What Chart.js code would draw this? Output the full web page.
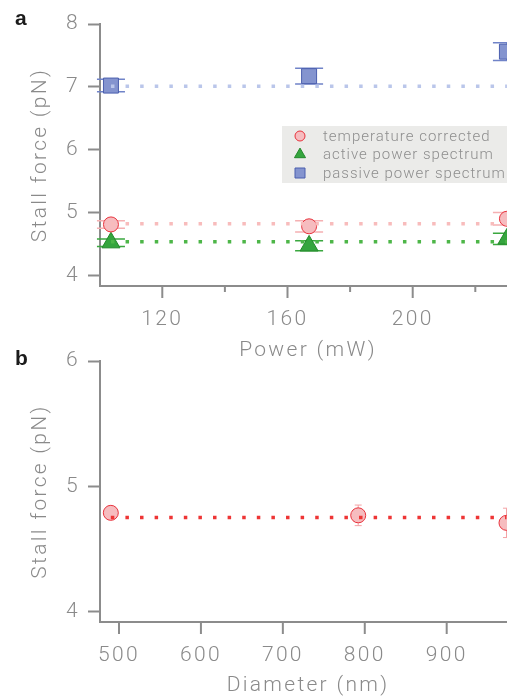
<!DOCTYPE html>
<html>
<head>
<meta charset="utf-8">
<script src="https://cdn.jsdelivr.net/npm/chart.js@4.4.1/dist/chart.umd.min.js"></script>
<style>
  html, body { margin: 0; padding: 0; overflow: hidden; background: #fff; }
  #fig { position: relative; width: 507px; height: 700px; overflow: hidden; }
  .panel { position: absolute; left: 0; width: 516px; }
  .tag { position: absolute; left: 15px; font: bold 21px "Liberation Sans", Arial, sans-serif; color: #1b1b1b; line-height: 21px; }
</style>
</head>
<body>
<div id="fig">
  <div class="panel" style="top:0;height:370px"><canvas id="chartA"></canvas></div>
  <div class="panel" style="top:340px;height:360px"><canvas id="chartB"></canvas></div>
  <div class="tag" style="top:7px">a</div>
  <div class="tag" style="top:347px">b</div>
</div>
<script>
// ---- Panel a: stall force against trap power ----
const powerMW = [103.6, 166.9, 230.1];
const tempCorrected = [4.81, 4.78, 4.90];
const tempCorrectedErr = [0.06, 0.09, 0.10];
const activeSpectrum = [4.52, 4.47, 4.58];
const activeSpectrumErr = [0.06, 0.08, 0.09];
const passiveSpectrum = [7.02, 7.17, 7.56];
const passiveSpectrumErr = [0.10, 0.125, 0.14];
const tempCorrectedLevel = 4.82;
const activeSpectrumLevel = 4.535;
const passiveSpectrumLevel = 7.01;
const powerTicks = [120, 140, 160, 180, 200, 220];
const powerTickLabels = [120, 160, 200];
const forceTicksA = [4, 5, 6, 7, 8];
const seriesNamesA = ['temperature corrected', 'active power spectrum', 'passive power spectrum'];

// ---- Panel b: stall force against bead diameter ----
const diameterNm = [490, 792, 973];
const stallForceB = [4.79, 4.77, 4.71];
const stallForceBErr = [0.05, 0.082, 0.117];
const stallForceBLevel = 4.753;
const diameterTicks = [500, 600, 700, 800, 900];
const forceTicksB = [4, 5, 6];

const GRAY = '#8c8c8c';
const TXT = '#8a8a8a';
const FAMILY = 'Roboto, "Liberation Sans", Arial, sans-serif';
const axisFont = { family: FAMILY, size: 21, weight: 300 };

const PINK_FILL = '#f6bcbf', RED = '#e8323c';
const GREEN_FILL = '#35a53e', GREEN_EDGE = '#23882b';
const BLUE_FILL = '#8494cf', BLUE_EDGE = '#4b5fae';

const pts = (xs, ys) => xs.map((x, i) => ({ x, y: ys[i] }));
const level = (xs, v) => [{ x: xs[0], y: v }, { x: xs[xs.length - 1], y: v }];

// spaced-out lettering used throughout the figure
const spacing = {
  id: 'spacing',
  beforeLayout(chart) { chart.ctx.letterSpacing = '2.3px'; },
  beforeDraw(chart) { chart.ctx.letterSpacing = '2.3px'; }
};

// vertical error bars with flat caps, drawn beneath the markers
const errorBars = {
  id: 'errorBars',
  beforeDatasetsDraw(chart) {
    const { ctx } = chart;
    chart.data.datasets.forEach((ds, i) => {
      if (!ds.errors) return;
      const meta = chart.getDatasetMeta(i);
      const ys = chart.scales[meta.yAxisID];
      ctx.save();
      ctx.strokeStyle = ds.errorColor;
      ctx.lineWidth = ds.errorWidth;
      meta.data.forEach((pt, j) => {
        const v = ds.data[j].y, e = ds.errors[j];
        const top = ys.getPixelForValue(v + e), bot = ys.getPixelForValue(v - e);
        const hw = ds.capHalfWidth;
        ctx.beginPath();
        ctx.moveTo(pt.x, top); ctx.lineTo(pt.x, bot);
        ctx.moveTo(pt.x - hw, top); ctx.lineTo(pt.x + hw, top);
        ctx.moveTo(pt.x - hw, bot); ctx.lineTo(pt.x + hw, bot);
        ctx.stroke();
      });
      ctx.restore();
    });
  }
};

// x tick marks: long under labelled values, short elsewhere
function tickMarks(labelled) {
  return {
    id: 'tickMarks',
    afterDraw(chart) {
      const s = chart.scales.x, ctx = chart.ctx;
      ctx.save();
      ctx.strokeStyle = GRAY;
      ctx.lineWidth = 2;
      s.ticks.forEach(t => {
        const px = s.getPixelForValue(t.value);
        const len = labelled.includes(t.value) ? 12 : 6;
        ctx.beginPath();
        ctx.moveTo(px, s.top);
        ctx.lineTo(px, s.top + len);
        ctx.stroke();
      });
      ctx.restore();
    }
  };
}

// boxed key in the upper right of panel a
const keyBox = {
  id: 'keyBox',
  afterDraw(chart) {
    const ctx = chart.ctx;
    const x0 = 282, y0 = 126, rowH = 18.5;
    ctx.save();
    ctx.fillStyle = '#ebebe9';
    ctx.fillRect(x0, y0, chart.width - x0, 57);
    ctx.letterSpacing = '1px';
    ctx.font = '300 15px ' + FAMILY;
    ctx.textBaseline = 'alphabetic';
    ctx.textAlign = 'left';
    const markers = chart.data.datasets.filter(d => d.keyed);
    markers.forEach((ds, k) => {
      const cx = 300, cy = 136 + k * rowH;
      ctx.fillStyle = ds.backgroundColor;
      ctx.strokeStyle = ds.borderColor;
      ctx.lineWidth = 1;
      ctx.beginPath();
      if (ds.pointStyle === 'circle') {
        ctx.arc(cx, cy, 5, 0, Math.PI * 2);
      } else if (ds.pointStyle === 'triangle') {
        const r = 6.4;
        ctx.moveTo(cx, cy - r);
        ctx.lineTo(cx + r * 0.866, cy + r / 2);
        ctx.lineTo(cx - r * 0.866, cy + r / 2);
        ctx.closePath();
      } else {
        ctx.rect(cx - 5, cy - 5, 10, 10);
      }
      ctx.fill();
      ctx.stroke();
      ctx.fillStyle = '#8e8e8e';
      ctx.fillText(ds.label, 323, cy + 4.8);
    });
    ctx.restore();
  }
};

function refLine(xs, v, color) {
  return {
    type: 'line', data: level(xs, v), borderColor: color, borderWidth: 3.5,
    borderDash: [3.5, 11.1], borderCapStyle: 'butt', pointRadius: 0, fill: false, clip: false
  };
}

function yAxis(min, max, ticks) {
  return {
    type: 'linear', min, max,
    afterBuildTicks: s => { s.ticks = ticks.map(v => ({ value: v })); },
    afterFit: s => { s.width = 100; },
    border: { display: true, color: GRAY, width: 2 },
    grid: { drawOnChartArea: false, drawTicks: true, tickLength: 12, tickColor: GRAY, tickWidth: 2 },
    ticks: { padding: 8, color: TXT, font: axisFont },
    title: { display: true, text: 'Stall force (pN)', color: TXT, font: axisFont, padding: { top: 28, bottom: 0 } }
  };
}

function xAxis(min, max, ticks, labelled, title, height, titleBottom) {
  return {
    type: 'linear', min, max,
    afterBuildTicks: s => { s.ticks = ticks.map(v => ({ value: v })); },
    afterFit: s => { s.height = height; },
    border: { display: true, color: GRAY, width: 2 },
    grid: { drawOnChartArea: false, drawTicks: false },
    ticks: {
      padding: 21, color: TXT, font: axisFont, autoSkip: false, maxRotation: 0,
      callback: v => labelled.includes(v) ? String(v) : ''
    },
    title: { display: true, text: title, color: TXT, font: axisFont, padding: { top: 0, bottom: titleBottom } }
  };
}

const common = {
  responsive: true,
  maintainAspectRatio: false,
  animation: false,
  devicePixelRatio: 1,
  plugins: { legend: { display: false }, tooltip: { enabled: false } }
};

new Chart(document.getElementById('chartA'), {
  type: 'scatter',
  data: {
    datasets: [
      refLine(powerMW, passiveSpectrumLevel, '#bac6ea'),
      refLine(powerMW, tempCorrectedLevel, '#f8bcbc'),
      refLine(powerMW, activeSpectrumLevel, '#4db648'),
      {
        label: seriesNamesA[0], keyed: true, data: pts(powerMW, tempCorrected),
        errors: tempCorrectedErr, errorColor: '#f5b0b2', errorWidth: 1.5, capHalfWidth: 14,
        pointStyle: 'circle', pointRadius: 7.5, backgroundColor: PINK_FILL, borderColor: RED, borderWidth: 1, clip: false
      },
      {
        label: seriesNamesA[1], keyed: true, data: pts(powerMW, activeSpectrum),
        errors: activeSpectrumErr, errorColor: '#3aa83f', errorWidth: 1.5, capHalfWidth: 14,
        pointStyle: 'triangle', pointRadius: 10.4, backgroundColor: GREEN_FILL, borderColor: GREEN_EDGE, borderWidth: 1, clip: false
      },
      {
        label: seriesNamesA[2], keyed: true, data: pts(powerMW, passiveSpectrum),
        errors: passiveSpectrumErr, errorColor: '#7083c8', errorWidth: 1.5, capHalfWidth: 14,
        pointStyle: 'rect', pointRadius: 10.6, backgroundColor: BLUE_FILL, borderColor: BLUE_EDGE, borderWidth: 1, clip: false
      }
    ]
  },
  options: Object.assign({}, common, {
    layout: { autoPadding: false, padding: { top: 24, left: 0, right: 0, bottom: 0 } },
    scales: {
      x: xAxis(100.1, 233.0, powerTicks, powerTickLabels, 'Power (mW)', 84, 7),
      y: yAxis(3.83, 8, forceTicksA)
    }
  }),
  plugins: [spacing, errorBars, tickMarks(powerTickLabels), keyBox]
});

new Chart(document.getElementById('chartB'), {
  type: 'scatter',
  data: {
    datasets: [
      refLine(diameterNm, stallForceBLevel, '#ee3535'),
      {
        label: 'temperature corrected', data: pts(diameterNm, stallForceB),
        errors: stallForceBErr, errorColor: '#f4a2a5', errorWidth: 1, capHalfWidth: 3.5,
        pointStyle: 'circle', pointRadius: 7.5, backgroundColor: PINK_FILL, borderColor: RED, borderWidth: 1, clip: false
      }
    ]
  },
  options: Object.assign({}, common, {
    layout: { autoPadding: false, padding: { top: 21, left: 0, right: 0, bottom: 0 } },
    scales: {
      x: xAxis(476.8, 984.6, diameterTicks, diameterTicks, 'Diameter (nm)', 78, 1.5),
      y: yAxis(3.92, 6, forceTicksB)
    }
  }),
  plugins: [spacing, errorBars, tickMarks(diameterTicks)]
});
</script>
</body>
</html>
